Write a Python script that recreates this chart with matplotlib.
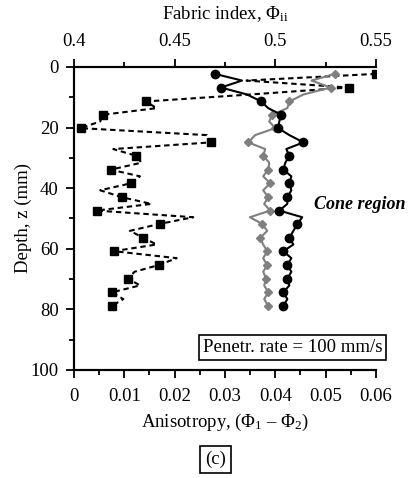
import matplotlib
matplotlib.use("Agg")
import matplotlib.pyplot as plt
from matplotlib.ticker import MultipleLocator

plt.rcParams['font.family'] = ['Liberation Serif', 'DejaVu Serif']
plt.rcParams['mathtext.fontset'] = 'custom'
plt.rcParams['mathtext.rm'] = 'Liberation Serif'
plt.rcParams['mathtext.it'] = 'Liberation Serif:italic'

# depths (mm) of line vertices; markers on every second vertex
depth = [2.3, 4.5, 6.8, 9.1, 11.4, 13.6, 15.8, 18.0, 20.2, 22.5, 24.9, 27.1,
         29.3, 31.6, 33.9, 36.1, 38.4, 40.7, 43.0, 45.2, 47.4, 49.6, 51.8,
         54.1, 56.4, 58.6, 60.8, 63.1, 65.4, 67.6, 69.9, 72.1, 74.4, 76.6, 78.9]

# anisotropy (Phi1 - Phi2), bottom axis
anisotropy = [0.0600, 0.0343, 0.0546, 0.0350, 0.0143, 0.0164, 0.0057, 0.0052,
              0.0013, 0.0264, 0.0272, 0.0078, 0.0123, 0.0134, 0.0073, 0.0131,
              0.0113, 0.0052, 0.0095, 0.0154, 0.0045, 0.0237, 0.0170, 0.0111,
              0.0138, 0.0164, 0.0079, 0.0204, 0.0168, 0.0120, 0.0108, 0.0131,
              0.0075, 0.0098, 0.0075]

# fabric index, black circles
fabric_black = [0.470, 0.4835, 0.473, 0.486, 0.493, 0.4965, 0.503, 0.502,
                0.5015, 0.507, 0.514, 0.5055, 0.507, 0.505, 0.504, 0.508,
                0.507, 0.508, 0.506, 0.506, 0.502, 0.5134, 0.511, 0.509,
                0.507, 0.509, 0.504, 0.508, 0.506, 0.508, 0.506, 0.507,
                0.504, 0.506, 0.504]

# fabric index, grey diamonds
fabric_grey = [0.5296, 0.518, 0.5275, 0.514, 0.507, 0.506, 0.4985, 0.497,
               0.500, 0.490, 0.4866, 0.495, 0.494, 0.497, 0.4965, 0.494,
               0.4975, 0.494, 0.4965, 0.4945, 0.4975, 0.4874, 0.4935, 0.496,
               0.4925, 0.494, 0.496, 0.494, 0.496, 0.494, 0.4955, 0.4945,
               0.4965, 0.4945, 0.4965]

aniso_ticks = [0, 0.01, 0.02, 0.03, 0.04, 0.05, 0.06]
aniso_labels = ['0', '0.01', '0.02', '0.03', '0.04', '0.05', '0.06']
fabric_ticks = [0.4, 0.45, 0.5, 0.55]
fabric_labels = ['0.4', '0.45', '0.5', '0.55']
depth_ticks = [0, 20, 40, 60, 80, 100]

FS = 13.5
fig = plt.figure(figsize=(4.09, 4.78), dpi=100)
ax = fig.add_axes([0.181, 0.226, 0.738, 0.634])
ax2 = ax.twiny()

grey = '#7f7f7f'
ax.plot(anisotropy, depth, color='black', lw=1.5, ls=(0, (2.6, 1.8)),
        marker='s', ms=6, markevery=2, zorder=3)
ax2.plot(fabric_grey, depth, color=grey, lw=1.5, marker='D', ms=4,
         markevery=2, mfc=grey, mec=grey, zorder=2)
ax2.plot(fabric_black, depth, color='black', lw=1.5, marker='o', ms=6,
         markevery=2, zorder=3)

ax.set_xlim(0, 0.06)
ax2.set_xlim(0.4, 0.55)
ax.set_ylim(100, 0)

ax.set_xticks(aniso_ticks)
ax.set_xticklabels(aniso_labels, fontsize=FS)
ax.xaxis.set_minor_locator(MultipleLocator(0.005))
ax2.set_xticks(fabric_ticks)
ax2.set_xticklabels(fabric_labels, fontsize=FS)
ax2.xaxis.set_minor_locator(MultipleLocator(0.025))
ax.set_yticks(depth_ticks)
ax.set_yticklabels([str(t) for t in depth_ticks], fontsize=FS)
ax.yaxis.set_minor_locator(MultipleLocator(10))

for a in (ax, ax2):
    a.tick_params(which='major', direction='out', length=6, width=1.3, pad=5)
    a.tick_params(which='minor', direction='out', length=3.5, width=1.3)
    a.spines['right'].set_visible(False)
    for s in ('left', 'bottom', 'top'):
        a.spines[s].set_linewidth(1.5)
ax.tick_params(top=False, which='both')
ax.tick_params(axis='x', which='major', pad=7)
ax2.tick_params(bottom=False, which='both')
ax2.tick_params(axis='x', which='major', pad=6)

ax.set_xlabel('Anisotropy, (Φ$_1$ – Φ$_2$)', fontsize=FS, labelpad=5)
ax2.set_xlabel('Fabric index, Φ$_{\\rm ii}$', fontsize=FS, labelpad=10)
ax.set_ylabel('Depth, z (mm)', fontsize=FS, labelpad=-1)

ax.text(1.021, 0.073, 'Penetr. rate = 100 mm/s', transform=ax.transAxes,
        ha='right', va='center', fontsize=FS, clip_on=False,
        bbox=dict(boxstyle='square,pad=0.22', fc='white', ec='black', lw=1.2))
ax.text(0.0478, 45.5, 'Cone region', fontsize=13, fontstyle='italic',
        fontweight='bold', ha='left', va='center', clip_on=False)

fig.text(0.527, 0.038, '(c)', fontsize=FS, ha='center', va='center',
         bbox=dict(boxstyle='square,pad=0.25', fc='white', ec='black', lw=1.2))

fig.savefig('out.png', dpi=100)
